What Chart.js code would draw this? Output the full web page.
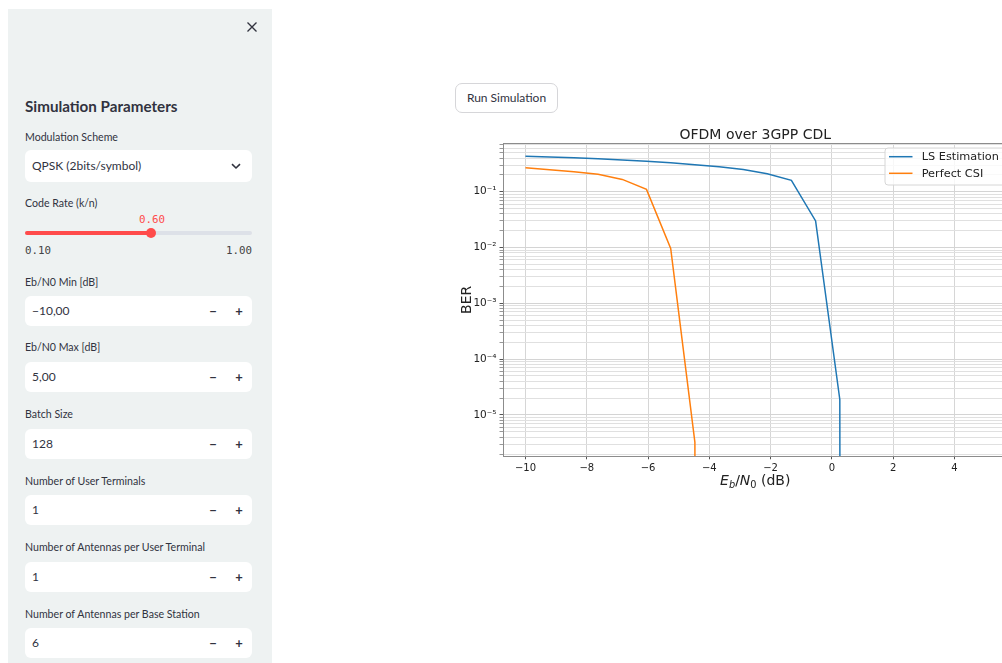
<!DOCTYPE html>
<html>
<head>
<meta charset="utf-8">
<script src="https://cdn.jsdelivr.net/npm/chart.js@4.4.1/dist/chart.umd.min.js"></script>
<style>
  html, body { margin: 0; padding: 0; width: 1002px; height: 663px; overflow: hidden; background: #fff; }
  body { font-family: Lato, "Noto Sans", sans-serif; color: #31333f; position: relative; }
  .side { position: absolute; left: 8px; top: 9px; width: 264px; height: 654px; background: #eef2f2; }
  .abs { position: absolute; white-space: nowrap; }
  .head { left: 25px; top: 96px; font-size: 15.2px; font-weight: 700; line-height: 20px; }
  .lbl { left: 25px; font-size: 10.6px; line-height: 14px; }
  .box { position: absolute; left: 25px; width: 227px; height: 30px; background: #fff; border-radius: 6px; }
  .box .val { position: absolute; left: 7px; top: 0; line-height: 30px; font-size: 12px; }
  .box .mn, .box .pl { position: absolute; top: 0; line-height: 30px; font-size: 13px; font-weight: 700; width: 14px; text-align: center; }
  .box .mn { left: 181px; }
  .box .pl { left: 207px; }
  .mono { font-family: "DejaVu Sans Mono", monospace; font-size: 10.8px; line-height: 14px; }
  .btn { position: absolute; left: 455px; top: 83px; width: 101px; height: 28px; border: 1px solid #d6d6d9; border-radius: 7px;
         background: #fff; font-size: 12px; line-height: 28px; text-align: center; }
  #c { position: absolute; left: 455px; top: 118px; }
</style>
</head>
<body>
<div class="side"></div>
<svg class="abs" style="left:246px;top:21px" width="12" height="12" viewBox="0 0 12 12">
  <path d="M1.5 1.5 L10.5 10.5 M10.5 1.5 L1.5 10.5" stroke="#31333f" stroke-width="1.3" fill="none"/>
</svg>

<div class="abs head">Simulation Parameters</div>

<div class="abs lbl" style="top:130px">Modulation Scheme</div>
<div class="box" style="top:150px;height:32px">
  <div class="val" style="line-height:32px">QPSK (2bits/symbol)</div>
  <svg class="abs" style="left:206px;top:13px" width="10" height="7" viewBox="0 0 10 7">
    <path d="M1 1.2 L5 5 L9 1.2" stroke="#31333f" stroke-width="1.6" fill="none"/>
  </svg>
</div>

<div class="abs lbl" style="top:196px">Code Rate (k/n)</div>
<div class="abs mono" style="left:139px;top:213px;color:#ff4b4b">0.60</div>
<div class="abs" style="left:25px;top:231px;width:227px;height:4px;border-radius:2px;background:#dde1e8"></div>
<div class="abs" style="left:25px;top:231px;width:127px;height:4px;border-radius:2px;background:#ff4b4b"></div>
<div class="abs" style="left:146px;top:228px;width:10px;height:10px;border-radius:5px;background:#ff4b4b"></div>
<div class="abs mono" style="left:25px;top:244px;color:#444">0.10</div>
<div class="abs mono" style="left:226px;top:244px;color:#444">1.00</div>

<div class="abs lbl" style="top:275px">Eb/N0 Min [dB]</div>
<div class="box" style="top:296px"><div class="val">−10,00</div><div class="mn">−</div><div class="pl">+</div></div>

<div class="abs lbl" style="top:340px">Eb/N0 Max [dB]</div>
<div class="box" style="top:362px"><div class="val">5,00</div><div class="mn">−</div><div class="pl">+</div></div>

<div class="abs lbl" style="top:407px">Batch Size</div>
<div class="box" style="top:429px"><div class="val">128</div><div class="mn">−</div><div class="pl">+</div></div>

<div class="abs lbl" style="top:474px">Number of User Terminals</div>
<div class="box" style="top:495px"><div class="val">1</div><div class="mn">−</div><div class="pl">+</div></div>

<div class="abs lbl" style="top:540px">Number of Antennas per User Terminal</div>
<div class="box" style="top:562px"><div class="val">1</div><div class="mn">−</div><div class="pl">+</div></div>

<div class="abs lbl" style="top:607px">Number of Antennas per Base Station</div>
<div class="box" style="top:628px"><div class="val">6</div><div class="mn">−</div><div class="pl">+</div></div>

<div class="btn">Run Simulation</div>

<canvas id="c" width="620" height="380"></canvas>

<script>
// BER curves (Eb/N0 points = linspace(-10, 5, 20))
const ebNo = [-10, -9.21, -8.42, -7.63, -6.84, -6.05, -5.26, -4.47, -3.68, -2.89,
              -2.11, -1.32, -0.53, 0.26, 1.05, 1.84, 2.63, 3.42, 4.21, 5];
const berLS = [0.43, 0.42, 0.405, 0.39, 0.37, 0.35, 0.33, 0.305, 0.28, 0.25,
               0.21, 0.16, 0.030, 1.9e-5, 0, 0, 0, 0, 0, 0];
const berPerfect = [0.268, 0.248, 0.228, 0.205, 0.166, 0.110, 0.0096, 3.25e-6, 0, 0,
                    0, 0, 0, 0, 0, 0, 0, 0, 0, 0];
const seriesLabels = ['LS Estimation', 'Perfect CSI'];
const seriesColors = ['#1f77b4', '#ff7f0e'];
const xTicks = [-10, -8, -6, -4, -2, 0, 2, 4];
const yDecades = [-6, -5, -4, -3, -2, -1, 0];
const xRange = [-10.75, 5.75];
const yRange = [1.82e-6, 0.736];

// zero BER can't sit on a log axis; push it far below like matplotlib's clip
function points(arr) {
  return ebNo.map(function (x, i) { return { x: x, y: arr[i] > 0 ? arr[i] : 1e-300 }; });
}

const SUP = { '-': '\u207B', '0': '\u2070', '1': '\u00B9', '2': '\u00B2', '3': '\u00B3',
              '4': '\u2074', '5': '\u2075', '6': '\u2076' };
function pow10Label(v) {
  const e = String(Math.round(Math.log10(v)));
  return '10' + e.split('').map(function (c) { return SUP[c]; }).join('');
}

const FONT = 'DejaVu Sans';

const extras = {
  id: 'extras',
  afterDatasetsDraw(chart) {
    const ctx = chart.ctx, a = chart.chartArea;
    ctx.save();
    // spines
    ctx.strokeStyle = '#8c8c8c';
    ctx.lineWidth = 1;
    ctx.strokeRect(Math.round(a.left) + 0.5, Math.round(a.top) + 0.5,
                   Math.round(a.right - a.left), Math.round(a.bottom - a.top));

    // legend box
    const lx = 430, ly = 30, lw = 120, lh = 37, r = 3;
    ctx.beginPath();
    ctx.moveTo(lx + r, ly);
    ctx.lineTo(lx + lw - r, ly);
    ctx.arcTo(lx + lw, ly, lx + lw, ly + r, r);
    ctx.lineTo(lx + lw, ly + lh - r);
    ctx.arcTo(lx + lw, ly + lh, lx + lw - r, ly + lh, r);
    ctx.lineTo(lx + r, ly + lh);
    ctx.arcTo(lx, ly + lh, lx, ly + lh - r, r);
    ctx.lineTo(lx, ly + r);
    ctx.arcTo(lx, ly, lx + r, ly, r);
    ctx.closePath();
    ctx.fillStyle = 'rgba(255,255,255,0.8)';
    ctx.fill();
    ctx.strokeStyle = '#d6d6d6';
    ctx.stroke();

    ctx.font = '11.3px "' + FONT + '"';
    ctx.textBaseline = 'middle';
    ctx.textAlign = 'left';
    chart.data.datasets.forEach(function (ds, i) {
      const yy = 38.7 + i * 16.6;
      ctx.strokeStyle = ds.borderColor;
      ctx.lineWidth = 1.5;
      ctx.beginPath();
      ctx.moveTo(434, yy);
      ctx.lineTo(457.5, yy);
      ctx.stroke();
      ctx.fillStyle = '#222';
      ctx.fillText(ds.label, 466.7, yy + 0.5);
    });
    ctx.restore();
  },
  afterDraw(chart) {
    const ctx = chart.ctx, a = chart.chartArea;
    ctx.save();
    ctx.fillStyle = '#222';
    ctx.textBaseline = 'alphabetic';
    ctx.textAlign = 'left';

    // x axis title: E_b/N_0 (dB)
    const parts = [
      { t: 'E', f: 'italic 14px "' + FONT + '"', dy: 0 },
      { t: 'b', f: 'italic 9.8px "' + FONT + '"', dy: 3 },
      { t: '/', f: '14px "' + FONT + '"', dy: 0 },
      { t: 'N', f: 'italic 14px "' + FONT + '"', dy: 0 },
      { t: '0', f: '9.8px "' + FONT + '"', dy: 3 },
      { t: ' (dB)', f: '14px "' + FONT + '"', dy: 0 }
    ];
    let total = 0;
    parts.forEach(function (p) { ctx.font = p.f; p.w = ctx.measureText(p.t).width; total += p.w; });
    let x = (a.left + a.right) / 2 - total / 2;
    const base = 367;
    parts.forEach(function (p) { ctx.font = p.f; ctx.fillText(p.t, x, base + p.dy); x += p.w; });

    // y axis title
    ctx.translate(16, (a.top + a.bottom) / 2);
    ctx.rotate(-Math.PI / 2);
    ctx.textAlign = 'center';
    ctx.font = '14px "' + FONT + '"';
    ctx.fillText('BER', 0, 0);
    ctx.restore();
  }
};

new Chart(document.getElementById('c'), {
  type: 'line',
  data: {
    datasets: [
      { label: seriesLabels[0], data: points(berLS), borderColor: seriesColors[0],
        backgroundColor: seriesColors[0], borderWidth: 1.5, pointRadius: 0, tension: 0, fill: false },
      { label: seriesLabels[1], data: points(berPerfect), borderColor: seriesColors[1],
        backgroundColor: seriesColors[1], borderWidth: 1.5, pointRadius: 0, tension: 0, fill: false }
    ]
  },
  options: {
    responsive: false,
    animation: false,
    events: [],
    layout: { padding: { left: 0, right: 67, top: 0, bottom: 0 } },
    plugins: {
      legend: { display: false },
      tooltip: { enabled: false },
      title: {
        display: true, text: 'OFDM over 3GPP CDL', fullSize: false, color: '#222',
        font: { family: FONT, size: 14, weight: 'normal', lineHeight: 1 },
        padding: { top: 10.7, bottom: 0.6 }
      }
    },
    scales: {
      x: {
        type: 'linear', min: xRange[0], max: xRange[1],
        afterBuildTicks: function (s) { s.ticks = xTicks.map(function (v) { return { value: v }; }); },
        afterFit: function (s) { s.height = 41.7; },
        border: { display: false },
        grid: { color: '#d6d6d6', lineWidth: 1, tickLength: 3, tickColor: '#555' },
        ticks: {
          autoSkip: false, maxRotation: 0, padding: 3, color: '#222',
          font: { family: FONT, size: 10 },
          callback: function (v) { return String(v).replace('-', '\u2212'); }
        }
      },
      y: {
        type: 'logarithmic', min: yRange[0], max: yRange[1],
        afterBuildTicks: function (s) {
          const t = [];
          yDecades.forEach(function (d) {
            for (let m = 1; m < 10; m++) {
              const v = m * Math.pow(10, d);
              if (v >= s.min && v <= s.max) t.push({ value: v, major: m === 1 });
            }
          });
          s.ticks = t;
        },
        afterFit: function (s) { s.width = 47.5; },
        border: { display: false },
        grid: {
          color: function (c) { return c.tick && c.tick.major ? '#d4d4d4' : '#e0e0e0'; },
          lineWidth: 1, tickLength: 3,
          tickColor: function (c) { return c.tick && c.tick.major ? '#555' : '#999'; }
        },
        ticks: {
          autoSkip: false, padding: 3, color: '#222',
          font: { family: FONT, size: 10.5 },
          callback: function (v, i, ticks) { return ticks[i].major ? pow10Label(v) : ''; }
        }
      }
    }
  },
  plugins: [extras]
});
</script>
</body>
</html>
